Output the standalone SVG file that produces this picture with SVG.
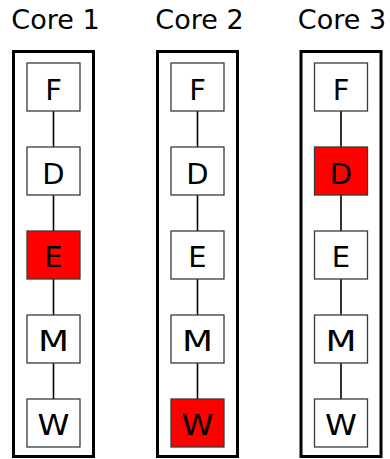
<svg xmlns="http://www.w3.org/2000/svg" width="390" height="459" viewBox="0 0 390 459">
<style>
.core{fill:#fff;stroke:#000;stroke-width:3}
.st{fill:#fff;stroke:#3a3a3a;stroke-width:1.3}
.hot{fill:#ff0000}
.lbl{font-family:"DejaVu Sans",sans-serif;font-size:29px;fill:#000;text-anchor:middle}
.title{font-family:"DejaVu Sans",sans-serif;font-size:27px;fill:#000;text-anchor:middle}
.conn{stroke:#000;stroke-width:1.6;fill:none}
</style>
<rect width="390" height="459" fill="#fff"/>
<text class="title" x="55.5" y="29">Core 1</text>
<text class="title" x="199.5" y="29">Core 2</text>
<text class="title" x="342" y="29">Core 3</text>
<rect id="core1" class="core" x="13.5" y="51.5" width="80" height="405"/>
<rect id="core2" class="core" x="157.5" y="51.5" width="80" height="405"/>
<rect id="core3" class="core" x="301" y="51.5" width="80" height="405"/>
<g id="connectors">
<path class="conn" d="M53.5 111V147M53.5 195V231M53.5 279V315M53.5 363V399"/>
<path class="conn" d="M197.5 111V147M197.5 195V231M197.5 279V315M197.5 363V399"/>
<path class="conn" d="M341 111V147M341 195V231M341 279V315M341 363V399"/>
</g>
<g id="c1F"><rect class="st" x="27" y="63" width="53" height="48"/><text class="lbl" x="53.5" y="99.5">F</text></g>
<g id="c1D"><rect class="st" x="27" y="147" width="53" height="48"/><text class="lbl" x="53.5" y="183.5">D</text></g>
<g id="c1E"><rect class="st hot" x="27" y="231" width="53" height="48"/><text class="lbl" x="53.5" y="266.5">E</text></g>
<g id="c1M"><rect class="st" x="27" y="315" width="53" height="48"/><text class="lbl" x="53.5" y="350.5" textLength="31" lengthAdjust="spacingAndGlyphs">M</text></g>
<g id="c1W"><rect class="st" x="27" y="399" width="53" height="48"/><text class="lbl" x="53.5" y="434.5" textLength="32" lengthAdjust="spacingAndGlyphs">W</text></g>
<g id="c2F"><rect class="st" x="171" y="63" width="53" height="48"/><text class="lbl" x="197.5" y="99.5">F</text></g>
<g id="c2D"><rect class="st" x="171" y="147" width="53" height="48"/><text class="lbl" x="197.5" y="183.5">D</text></g>
<g id="c2E"><rect class="st" x="171" y="231" width="53" height="48"/><text class="lbl" x="197.5" y="266.5">E</text></g>
<g id="c2M"><rect class="st" x="171" y="315" width="53" height="48"/><text class="lbl" x="197.5" y="350.5" textLength="31" lengthAdjust="spacingAndGlyphs">M</text></g>
<g id="c2W"><rect class="st hot" x="171" y="399" width="53" height="48"/><text class="lbl" x="197.5" y="434.5" textLength="32" lengthAdjust="spacingAndGlyphs">W</text></g>
<g id="c3F"><rect class="st" x="314.5" y="63" width="53" height="48"/><text class="lbl" x="341" y="99.5">F</text></g>
<g id="c3D"><rect class="st hot" x="314.5" y="147" width="53" height="48"/><text class="lbl" x="341" y="183.5">D</text></g>
<g id="c3E"><rect class="st" x="314.5" y="231" width="53" height="48"/><text class="lbl" x="341" y="266.5">E</text></g>
<g id="c3M"><rect class="st" x="314.5" y="315" width="53" height="48"/><text class="lbl" x="341" y="350.5" textLength="31" lengthAdjust="spacingAndGlyphs">M</text></g>
<g id="c3W"><rect class="st" x="314.5" y="399" width="53" height="48"/><text class="lbl" x="341" y="434.5" textLength="32" lengthAdjust="spacingAndGlyphs">W</text></g>
</svg>
